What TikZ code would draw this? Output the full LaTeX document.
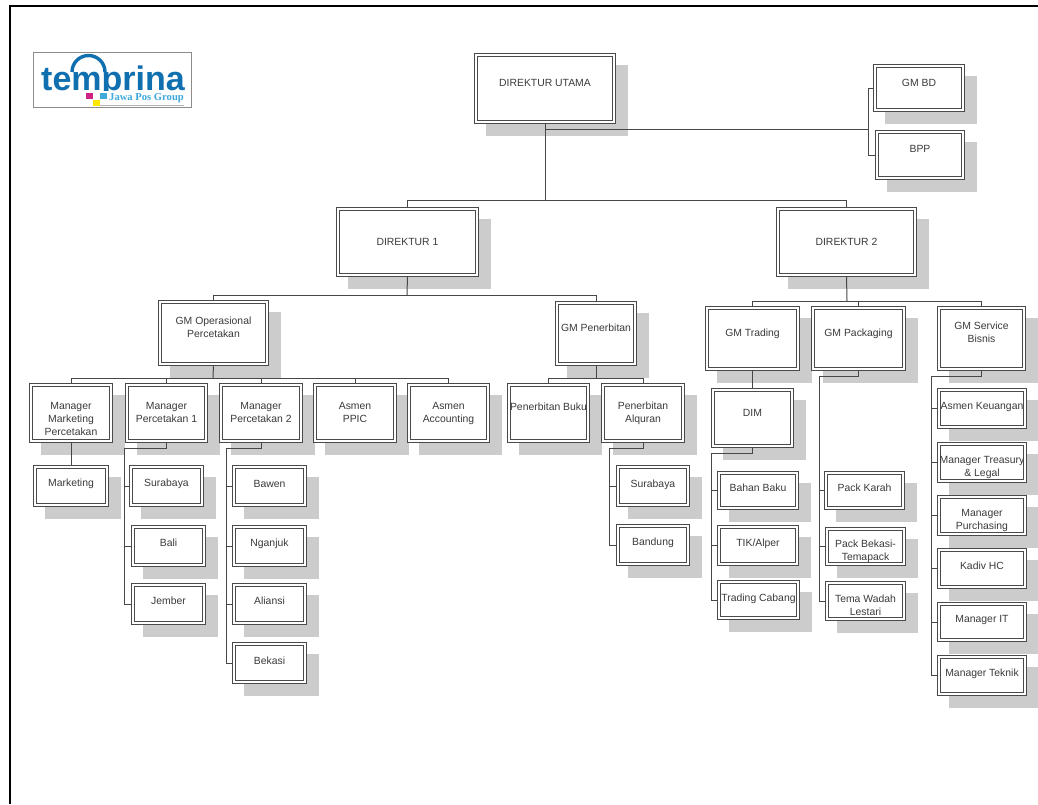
\documentclass[tikz,border=0pt]{standalone}
\usepackage{fontspec}
\setmainfont{Liberation Sans}
\newfontfamily\logoserif{Liberation Serif}
\usetikzlibrary{calc}
\pgfdeclarelayer{backdrop}
\pgfdeclarelayer{shad}
\pgfdeclarelayer{conn}
\pgfsetlayers{backdrop,shad,conn,main}
\definecolor{shadowgray}{HTML}{CCCCCC}
\definecolor{edgegray}{HTML}{4A4A4A}
\definecolor{textgray}{HTML}{3A3A3A}
\definecolor{logoblue}{HTML}{0F6FAF}
\definecolor{logocyan}{HTML}{3FA9DC}
\tikzset{
  orgbox/.style={draw=edgegray,fill=white,line width=1.1pt,double=white,double distance=1.8pt,inner sep=0pt,outer sep=0pt,rectangle,text=textgray},
  conline/.style={draw=black!72,line width=1pt},
}
\newcommand{\bx}[7]{%
  \pgfmathsetmacro{\wid}{#4-#2-4}%
  \pgfmathsetmacro{\hei}{#5-#3-4}%
  \pgfmathsetmacro{\topgap}{#6-#3-2-4.5}%
  \begin{pgfonlayer}{shad}
    \fill[shadowgray] ({#2+12},{#3+12}) rectangle ({#4+12},{#5+12});
  \end{pgfonlayer}
  \node[orgbox,anchor=center] (#1) at ({(#2+#4)/2},{(#3+#5)/2}) {%
    \parbox[c][\hei pt][t]{\wid pt}{%
      \fontsize{10.4}{12.9}\selectfont
      \centering
      \leftskip=-12pt plus 1fil \rightskip=-12pt plus 1fil
      \vspace*{\topgap pt}\strut #7\strut\par}};
}
\begin{document}
\begin{tikzpicture}[x=1pt,y=-1pt]
\useasboundingbox (0,0) rectangle (1038,804);
\begin{pgfonlayer}{backdrop}
\fill[white] (0,0) rectangle (1038,804);
\end{pgfonlayer}
\draw[black,line width=2.2pt] (10,804) -- (10,6) -- (1038,6);

% logo
\node[draw=black!45,line width=.7pt,fill=white,minimum width=158pt,minimum height=55pt,inner sep=0pt] (logo) at (112,80) {};
\node[text=logoblue,inner sep=0pt,anchor=base] (logoword) at (113,90) {\fontsize{34}{34}\selectfont\bfseries temprina};
\fill[white] (82,91) rectangle (188,107);
\draw[logoblue,line width=3.4pt] (72,72) arc[start angle=180,end angle=360,radius=16.5];
\node[text=logocyan,inner sep=0pt,anchor=west] (logotag) at (109,98) {\logoserif\fontsize{10.6}{11}\selectfont\bfseries Jawa Pos Group};
\draw[black!30,line width=.6pt] (100,105) -- (184,105);
\fill[magenta!85!black] (86,93) rectangle (93,99);
\fill[yellow!90!orange] (93,100) rectangle (100,106);
\fill[logocyan] (100,93) rectangle (107,99);

\bx{du}{474}{53}{616}{124}{82}{DIREKTUR UTAMA}
\bx{gmbd}{873}{64}{965}{112}{82}{GM BD}
\bx{bpp}{875}{130}{965}{180}{148}{BPP}
\bx{dsatu}{336}{207}{479}{277}{241}{DIREKTUR 1}
\bx{ddua}{776}{207}{917}{277}{241}{DIREKTUR 2}
\bx{gmop}{158}{300}{269}{366}{320}{GM Operasional\\Percetakan}
\bx{gmpen}{555}{301}{637}{366}{327}{GM Penerbitan}
\bx{gmtr}{705}{306}{800}{371}{332}{GM Trading}
\bx{gmpa}{811}{306}{906}{371}{332}{GM Packaging}
\bx{gmsb}{937}{306}{1026}{371}{325}{GM Service\\Bisnis}
\bx{mm}{29}{383}{113}{443}{405}{Manager\\Marketing\\Percetakan}
\bx{mpa}{125}{383}{208}{443}{405}{Manager\\Percetakan 1}
\bx{mpb}{219}{383}{303}{443}{405}{Manager\\Percetakan 2}
\bx{ppic}{313}{383}{397}{443}{405}{Asmen\\PPIC}
\bx{acc}{407}{383}{490}{443}{405}{Asmen\\Accounting}
\bx{pbuku}{507}{383}{590}{443}{406}{Penerbitan Buku}
\bx{palq}{601}{383}{685}{443}{405}{Penerbitan\\Alquran}
\bx{mkt}{33}{465}{109}{507}{482}{Marketing}
\bx{sby}{129}{465}{204}{507}{482}{Surabaya}
\bx{bali}{131}{525}{206}{567}{542}{Bali}
\bx{jember}{131}{583}{206}{625}{600}{Jember}
\bx{bawen}{232}{465}{307}{507}{483}{Bawen}
\bx{ngk}{232}{525}{307}{567}{542}{Nganjuk}
\bx{ali}{232}{583}{307}{625}{600}{Aliansi}
\bx{bks}{232}{642}{307}{684}{660}{Bekasi}
\bx{sbyb}{616}{465}{690}{507}{483}{Surabaya}
\bx{bdg}{616}{524}{690}{566}{541}{Bandung}
\bx{dim}{711}{388}{794}{448}{412}{DIM}
\bx{bhn}{717}{471}{799}{510}{487}{Bahan Baku}
\bx{tik}{717}{525}{799}{566}{542}{TIK/Alper}
\bx{tcb}{717}{580}{800}{620}{597}{Trading Cabang}
\bx{pkr}{824}{471}{905}{510}{487}{Pack Karah}
\bx{pbt}{825}{527}{906}{566}{543}{Pack Bekasi-\\Temapack}
\bx{twl}{825}{581}{906}{621}{598}{Tema Wadah\\Lestari}
\bx{keu}{937}{388}{1027}{429}{405}{Asmen Keuangan}
\bx{tre}{937}{442}{1027}{483}{459}{Manager Treasury\\\& Legal}
\bx{pur}{937}{495}{1027}{536}{512}{Manager\\Purchasing}
\bx{hc}{937}{548}{1027}{589}{565}{Kadiv HC}
\bx{mit}{937}{602}{1027}{642}{618}{Manager IT}
\bx{tek}{937}{655}{1027}{696}{672}{Manager Teknik}

\coordinate (dubus) at (545,200);
\coordinate (staffbus) at (868,129);
\coordinate (d1bus) at (407,295);
\coordinate (d2bus) at (847,301);
\coordinate (opbus) at (213,378);
\coordinate (penbus) at (596,378);
\coordinate (p1elbow) at (124,448);
\coordinate (p2elbow) at (226,448);
\coordinate (alqelbow) at (609,448);
\coordinate (dimelbow) at (711,453);
\coordinate (pacelbow) at (819,376);
\coordinate (sbelbow) at (931,376);

\begin{pgfonlayer}{conn}
\draw[conline] (du.south) -- (du.south |- dubus);
\draw[conline] (dsatu.north) |- (dubus);
\draw[conline] (ddua.north) |- (dubus);
\draw[conline] (du.south |- staffbus) -- (staffbus);
\draw[conline] (gmbd.west) -| (staffbus) |- (bpp.west);
\draw[conline] (dsatu.south) -- (d1bus);
\draw[conline] (gmop.north) |- (d1bus);
\draw[conline] (gmpen.north) |- (d1bus);
\draw[conline] (ddua.south) -- (d2bus);
\draw[conline] (gmtr.north) |- (d2bus);
\draw[conline] (gmpa.north) |- (d2bus);
\draw[conline] (gmsb.north) |- (d2bus);
\draw[conline] (gmop.south) -- (opbus);
\foreach \c in {mm,mpa,mpb,ppic,acc} {\draw[conline] (\c.north) |- (opbus);}
\draw[conline] (gmpen.south) -- (penbus);
\foreach \c in {pbuku,palq} {\draw[conline] (\c.north) |- (penbus);}
\draw[conline] (mm.south) -- (mkt.north -| mm.south);
\draw[conline] (mpa.south) |- (p1elbow) |- (jember.west);
\foreach \c in {sby,bali} {\draw[conline] (p1elbow |- \c.west) -- (\c.west);}
\draw[conline] (mpb.south) |- (p2elbow) |- (bks.west);
\foreach \c in {bawen,ngk,ali} {\draw[conline] (p2elbow |- \c.west) -- (\c.west);}
\draw[conline] (palq.south) |- (alqelbow) |- (bdg.west);
\draw[conline] (alqelbow |- sbyb.west) -- (sbyb.west);
\draw[conline] (gmtr.south) -- (dim.north -| gmtr.south);
\draw[conline] (dim.south) |- (dimelbow) |- (tcb.west);
\foreach \c in {bhn,tik} {\draw[conline] (dimelbow |- \c.west) -- (\c.west);}
\draw[conline] (gmpa.south) |- (pacelbow) |- (twl.west);
\foreach \c in {pkr,pbt} {\draw[conline] (pacelbow |- \c.west) -- (\c.west);}
\draw[conline] (gmsb.south) |- (sbelbow) |- (tek.west);
\foreach \c in {keu,tre,pur,hc,mit} {\draw[conline] (sbelbow |- \c.west) -- (\c.west);}
\end{pgfonlayer}
\end{tikzpicture}
\end{document}
